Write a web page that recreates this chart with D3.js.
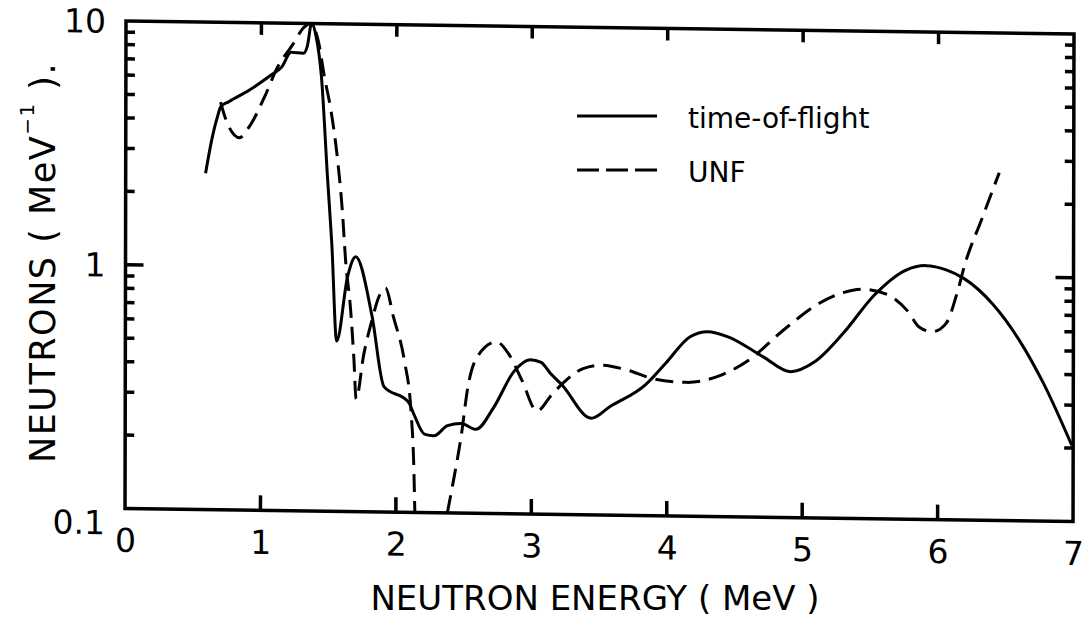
<!DOCTYPE html>
<html>
<head>
<meta charset="utf-8">
<script src="https://cdn.jsdelivr.net/npm/d3@7/dist/d3.min.js"></script>
<style>
    html, body { margin: 0; padding: 0; background: #fff; }
    svg { display: block; font-family: 'DejaVu Sans', sans-serif; }
</style>
</head>
<body>
<div id="chart"></div>
<script>
// values
const energyTicks = [0, 1, 2, 3, 4, 5, 6, 7];
const innerEnergyTicks = [1, 2, 3, 4, 5, 6];
const yTickLabels = [0.1, 1, 10];

const tofEnergy = [0.59, 0.63, 0.68, 0.70, 0.76, 0.91, 1.07, 1.15, 1.22, 1.31, 1.34, 1.37, 1.405, 1.444,
    1.49, 1.523, 1.56, 1.64, 1.70, 1.82, 1.91, 2.09, 2.13, 2.21, 2.28, 2.38, 2.48, 2.59, 2.72, 2.87,
    2.99, 3.07, 3.14, 3.225, 3.44, 3.58, 3.84, 3.99, 4.17, 4.30, 4.45, 4.71, 4.91, 5.09, 5.30, 5.53,
    5.76, 5.91, 6.06, 6.19, 6.40, 6.60, 6.78, 6.99];
const tofValue = [2.40, 3.19, 4.16, 4.5, 4.73, 5.28, 6.1, 6.6, 7.6, 7.55, 8.1, 10, 8.8, 6.05,
    2.35, 1.25, 0.50, 0.92, 1.11, 0.64, 0.327, 0.284, 0.254, 0.21, 0.207, 0.228, 0.233, 0.221, 0.272, 0.384,
    0.43, 0.42, 0.378, 0.34, 0.249, 0.279, 0.344, 0.423, 0.545, 0.573, 0.547, 0.455, 0.397, 0.437, 0.574, 0.828,
    1.05, 1.10, 1.06, 0.98, 0.776, 0.551, 0.367, 0.205];

// null = UNF drops below 0.1 between 2.14 and 2.38 MeV
const unfEnergy = [0.70, 0.74, 0.84, 0.91, 1.025, 1.12, 1.22, 1.32, 1.36, 1.42, 1.466, 1.515, 1.565, 1.60,
    1.625, 1.663, 1.687, 1.705, 1.76, 1.82, 1.87, 1.92, 1.98, 2.06, 2.11, 2.13, 2.14, 2.26, 2.38, 2.43,
    2.48, 2.53, 2.60, 2.74, 2.83, 2.93, 3.04, 3.15, 3.23, 3.38, 3.52, 3.71, 3.915, 4.145, 4.40, 4.605,
    4.86, 5.12, 5.30, 5.45, 5.63, 5.78, 5.86, 5.96, 6.06, 6.14, 6.20, 6.32, 6.45];
const unfValue = [4.7, 3.98, 3.37, 3.73, 4.98, 6.6, 8.0, 9.7, 10, 8.5, 6.05, 4.4, 2.75, 1.72,
    1.07, 0.67, 0.43, 0.29, 0.44, 0.61, 0.76, 0.83, 0.63, 0.42, 0.26, 0.164, 0.1, null, 0.1, 0.141,
    0.205, 0.33, 0.44, 0.506, 0.453, 0.352, 0.265, 0.31, 0.345, 0.398, 0.412, 0.394, 0.363, 0.354, 0.381, 0.441,
    0.588, 0.759, 0.843, 0.873, 0.83, 0.71, 0.616, 0.59, 0.639, 0.85, 1.13, 1.71, 2.67];

const seriesNames = ['time-of-flight', 'UNF'];

const width = 1084, height = 623;
const plotW = 948, plotH = 487.5;
// scanned frame is a bit tilted, follow it with a small shear
const frame = { x: 126, y: 21, skewY: 0.0137, skewX: -0.002 };
const dash = '18,9';

const svg = d3.select('#chart')
    .append('svg')
    .attr('width', width)
    .attr('height', height);

svg.append('rect').attr('width', width).attr('height', height).attr('fill', '#fff');

const x = d3.scaleLinear().domain([0, 7]).range([0, plotW]);
const y = d3.scaleLog().domain([0.1, 10]).range([plotH, 0]);

const g = svg.append('g')
    .attr('transform', `matrix(1,${frame.skewY},${frame.skewX},1,${frame.x},${frame.y})`);

const isDecade = v => Math.abs(Math.log10(v) - Math.round(Math.log10(v))) < 1e-6;
const minorTicks = y.ticks().filter(v => !isDecade(v));

// inside ticks on all four sides, drawn as plain lines
const ticks = g.append('g').attr('stroke', '#000').attr('stroke-width', 3.5);

const yTickMarks = minorTicks.map(v => ({ v, len: 9 })).concat([{ v: 1, len: 18 }]);
ticks.selectAll('.tick-left')
    .data(yTickMarks)
    .enter()
    .append('line')
    .attr('class', 'tick-left')
    .attr('x1', 0)
    .attr('x2', d => d.len)
    .attr('y1', d => y(d.v))
    .attr('y2', d => y(d.v));

ticks.selectAll('.tick-right')
    .data(yTickMarks)
    .enter()
    .append('line')
    .attr('class', 'tick-right')
    .attr('x1', plotW)
    .attr('x2', d => plotW - d.len)
    .attr('y1', d => y(d.v))
    .attr('y2', d => y(d.v));

ticks.selectAll('.tick-bottom')
    .data(innerEnergyTicks)
    .enter()
    .append('line')
    .attr('class', 'tick-bottom')
    .attr('x1', d => x(d))
    .attr('x2', d => x(d))
    .attr('y1', plotH)
    .attr('y2', plotH - 15);

ticks.selectAll('.tick-top')
    .data(innerEnergyTicks)
    .enter()
    .append('line')
    .attr('class', 'tick-top')
    .attr('x1', d => x(d))
    .attr('x2', d => x(d))
    .attr('y1', 0)
    .attr('y2', 12);

// tick labels
const xLabels = g.append('g').attr('transform', `translate(0,${plotH})`)
    .call(d3.axisBottom(x).tickValues(energyTicks).tickSize(0).tickPadding(20).tickFormat(d3.format('d')));
xLabels.select('.domain').remove();
xLabels.selectAll('text').attr('font-size', 33).attr('font-family', 'DejaVu Sans').attr('fill', '#000');

const yLabels = g.append('g')
    .call(d3.axisLeft(y).tickValues(yTickLabels).tickSize(0).tickPadding(20).tickFormat(d => d < 1 ? '0.1' : d3.format('d')(d)));
yLabels.select('.domain').remove();
yLabels.selectAll('text').attr('font-size', 33).attr('font-family', 'DejaVu Sans').attr('fill', '#000')
    .attr('y', d => d < 1 ? 15 : 1);

g.append('rect')
    .attr('width', plotW)
    .attr('height', plotH)
    .attr('fill', 'none')
    .attr('stroke', '#000')
    .attr('stroke-width', 3.5);

const line = d3.line()
    .defined(d => d.v != null)
    .x(d => x(d.e))
    .y(d => y(d.v))
    .curve(d3.curveMonotoneX);

const tof = tofEnergy.map((e, i) => ({ e, v: tofValue[i] }));
const unf = unfEnergy.map((e, i) => ({ e, v: unfValue[i] }));

g.append('path')
    .datum(tof)
    .attr('fill', 'none')
    .attr('stroke', '#000')
    .attr('stroke-width', 3)
    .attr('stroke-linejoin', 'round')
    .attr('d', line);

g.append('path')
    .datum(unf)
    .attr('fill', 'none')
    .attr('stroke', '#000')
    .attr('stroke-width', 3)
    .attr('stroke-dasharray', dash)
    .attr('d', line);

// legend
const legend = svg.append('g').attr('transform', 'translate(577,116)');
seriesNames.forEach((name, i) => {
    const item = legend.append('g').attr('transform', `translate(0,${i * 54})`);
    item.append('line')
        .attr('x1', 0).attr('x2', 80)
        .attr('y1', 0).attr('y2', 0)
        .attr('stroke', '#000')
        .attr('stroke-width', 3)
        .attr('stroke-dasharray', i === 1 ? '22,7' : null);
    item.append('text')
        .attr('x', 111)
        .attr('y', 12)
        .attr('font-size', 28)
        .text(name);
});

// axis titles
svg.append('text')
    .attr('x', 595)
    .attr('y', 610)
    .attr('text-anchor', 'middle')
    .attr('font-size', 34)
    .text('NEUTRON ENERGY ( MeV )');

const yTitle = svg.append('text')
    .attr('transform', 'translate(55,463) rotate(-90)')
    .attr('font-size', 35)
    .attr('letter-spacing', 1.5);
yTitle.append('tspan').text('NEUTRONS ( MeV');
yTitle.append('tspan').attr('font-size', 20).attr('dy', -21).text('−1');
yTitle.append('tspan').attr('dy', 21).text(' ).');
</script>
</body>
</html>
